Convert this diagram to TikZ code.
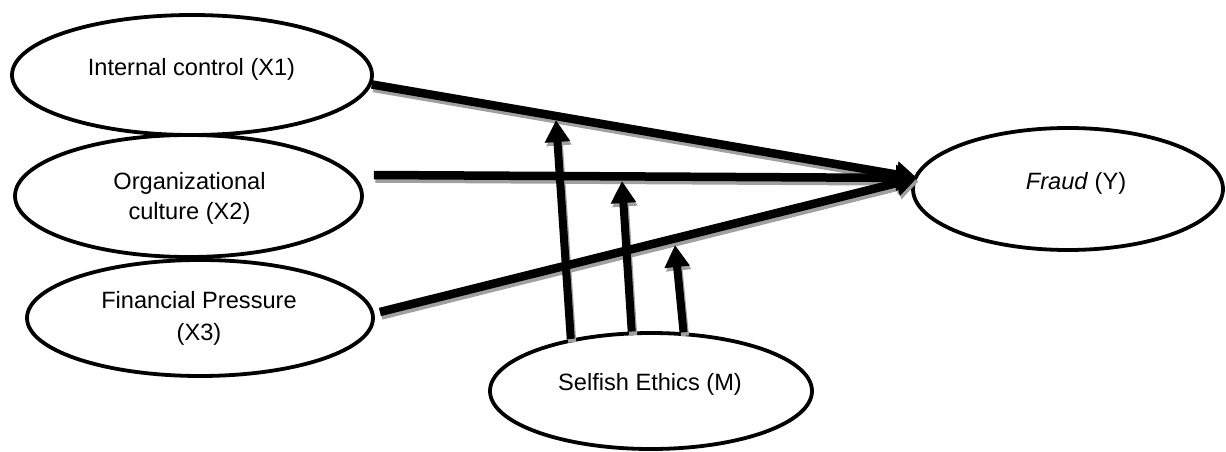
\documentclass[tikz,border=0pt]{standalone}
\usepackage{fontspec}
\setmainfont{Liberation Sans}
\usetikzlibrary{shapes.geometric,arrows.meta}
\definecolor{shadowgray}{HTML}{A0A0A0}
\newcommand{\pathsetdraw}{%
  \draw[mainarrow] (x1.-3) -- (conv);
  \draw[mainarrow] ([shift={(10pt,21pt)}]x2.east) -- (conv);
  \draw[mainarrow] ([shift={(5pt,6pt)}]x3.east) -- (conv);
  \draw[modarrow] (selfish.147) -- (m1);
  \draw[modarrow] (selfish.108) -- (m2);
  \draw[modarrow] (selfish.61) -- (m3);
}
\begin{document}
\begin{tikzpicture}[x=1pt,y=-1pt,
  oval/.style={draw, ellipse, line width=3.8pt, inner sep=0pt, fill=white},
  lbl/.style={inner sep=0pt, font=\fontsize{23.6}{30}\selectfont, align=center},
  mainarrow/.style={line width=8.5pt, -{Triangle[length=21pt,width=25pt]}},
  modarrow/.style={line width=8pt, -{Triangle[length=22pt,width=24pt]}}
]
\useasboundingbox (0,0) rectangle (1226,452);

% ovals
\node[oval, minimum width=360pt, minimum height=120pt] (x1) at (192,75) {};
\node[oval, minimum width=347pt, minimum height=122pt] (x2) at (188.5,196) {};
\node[oval, minimum width=346pt, minimum height=116pt] (x3) at (200,318) {};
\node[oval, minimum width=310pt, minimum height=122pt] (fraud) at (1068,189) {};
\node[oval, minimum width=322pt, minimum height=116pt] (selfish) at (651,391) {};

% labels
\node[lbl, anchor=base] (t1) at (191.5,76) {Internal control (X1)};
\node[lbl, anchor=north] (t2) at (189.5,172) {Organizational\\culture (X2)};
\node[lbl, anchor=north, font=\fontsize{23.6}{32}\selectfont] (t3) at (199,291) {Financial Pressure\\(X3)};
\node[lbl, anchor=base] (t4) at (1076,189) {\textit{Fraud} (Y)};
\node[lbl, anchor=base] (t5) at (650,390) {Selfish Ethics (M)};

% meeting points
\coordinate (conv) at (917,178);
\coordinate (m1) at (556,120);
\coordinate (m2) at (622,181);
\coordinate (m3) at (675,245);

% shadows of the paths
\begin{scope}[color=shadowgray, transform canvas={xshift=1.5pt, yshift=-3.5pt}]
  \pathsetdraw
\end{scope}
% the paths
\pathsetdraw
\end{tikzpicture}
\end{document}
